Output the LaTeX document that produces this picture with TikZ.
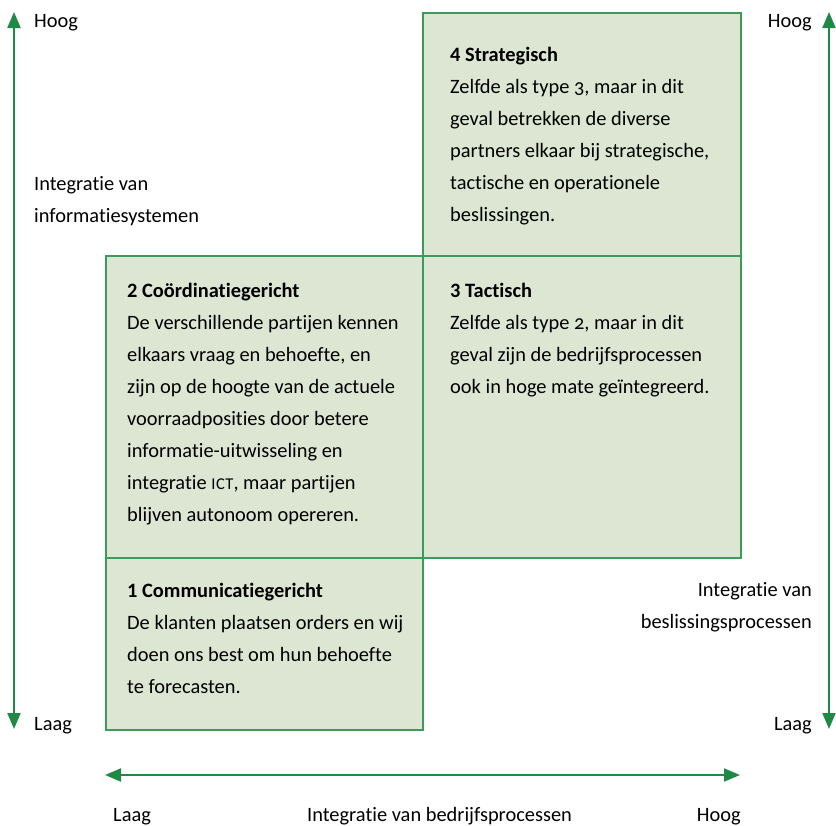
\documentclass[tikz,border=0pt]{standalone}
\usepackage{fontspec}
\setmainfont{Carlito}[Numbers=OldStyle, Ligatures=NoCommon]
\usetikzlibrary{arrows.meta}
\definecolor{boxfill}{RGB}{220,230,211}
\definecolor{boxline}{RGB}{60,154,90}
\definecolor{arrowgreen}{RGB}{30,138,70}
\newcommand{\ttl}[1]{{\bfseries\addfontfeatures{Numbers=Lining}#1}}
\newcommand{\ictsc}{{\fontsize{16.5bp}{32bp}\selectfont I\kern0.6bp C\kern0.6bp T}}
\tikzset{
  quad/.style={draw=boxline, fill=boxfill, line width=1.6bp, inner sep=0pt, anchor=north west},
  axis/.style={draw=arrowgreen, line width=2bp, {Triangle[length=16bp,width=13bp]}-{Triangle[length=16bp,width=13bp]}},
  lbl/.style={font=\fontsize{20.4bp}{32bp}\selectfont, inner sep=0pt, align=left, anchor=base west},
  lblr/.style={font=\fontsize{20.4bp}{32bp}\selectfont, inner sep=0pt, align=right, anchor=base east},
}
\begin{document}
\begin{tikzpicture}[x=1bp,y=-1bp]
\useasboundingbox (0,0) rectangle (836,826);
% boxes
\node[quad, minimum width=318bp, minimum height=243bp] (b4) at (422,12) {};
\node[quad, minimum width=317bp, minimum height=302bp] (b2) at (105,255) {};
\node[quad, minimum width=318bp, minimum height=302bp] (b3) at (422,255) {};
\node[quad, minimum width=317bp, minimum height=172bp] (b1) at (105,557) {};
% axes
\coordinate (lt) at (14,12);
\coordinate (lb) at (14,729);
\coordinate (rt) at (829,12);
\coordinate (rb) at (829,729);
\coordinate (hl) at (105,775);
\coordinate (hr) at (740,775);
\draw[axis] (lb) -- (lt);
\draw[axis] (rb) -- (rt);
\draw[axis] (hl) -- (hr);
% axis labels (base anchor = baseline of the last line)
\node[lbl] (lhoog) at (34,27) {Hoog};
\node[lbl] (lint) at (34,222) {Integratie van\\informatiesystemen};
\node[lbl] (llaag) at (34,730) {Laag};
\node[lblr] (rhoog) at (812,27) {Hoog};
\node[lblr] (rint) at (812,628) {Integratie van\\beslissingsprocessen};
\node[lblr] (rlaag) at (812,730) {Laag};
\node[lbl] (blaag) at (113,821) {Laag};
\node[lbl] (bint) at (307,821) {Integratie van bedrijfsprocessen};
\node[lblr] (bhoog) at (741,821) {Hoog};
% box texts
\node[lbl] (t4) at (450,221) {\ttl{4 Strategisch}\\Zelfde als type 3, maar in dit\\geval betrekken de diverse\\partners elkaar bij strategische,\\tactische en operationele\\beslissingen.};
\node[lbl] (t2) at (127,521) {\ttl{2 Coördinatiegericht}\\De verschillende partijen kennen\\elkaars vraag en behoefte, en\\zijn op de hoogte van de actuele\\voorraadposities door betere\\informatie-uitwisseling en\\integratie \ictsc, maar partijen\\blijven autonoom opereren.};
\node[lbl] (t3) at (450,393) {\ttl{3 Tactisch}\\Zelfde als type 2, maar in dit\\geval zijn de bedrijfsprocessen\\ook in hoge mate geïntegreerd.};
\node[lbl] (t1) at (127,693) {\ttl{1 Communicatiegericht}\\De klanten plaatsen orders en wij\\doen ons best om hun behoefte\\te forecasten.};
\end{tikzpicture}
\end{document}
